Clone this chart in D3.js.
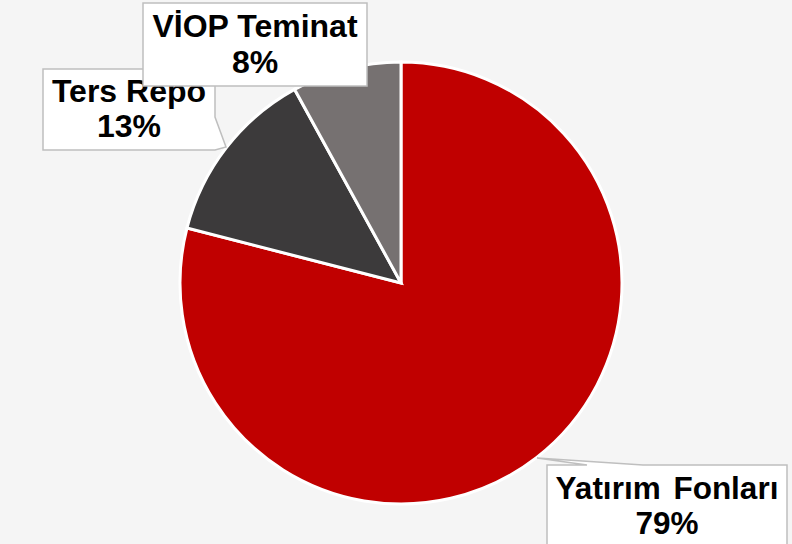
<!DOCTYPE html>
<html><head><meta charset="utf-8">
<script src="https://cdn.jsdelivr.net/npm/d3@7"></script>
<style>html,body{margin:0;padding:0;background:#f5f5f5;}svg{display:block;}</style>
</head><body>
<svg id="chart" width="792" height="544"></svg>
<script>
// Data
const categories = ["Yatırım Fonları", "Ters Repo", "VİOP Teminat"];
const values = [79, 13, 8];
const percentLabels = ["79%", "13%", "8%"];

// Styles / layout
const colors = ["#C00000", "#3C3A3B", "#767171"];
const W = 792, H = 544;
const cx = 401, cy = 283, R = 221;
const boxes = [
  {x0: 547, y0: 465, x1: 787, y1: 552, line1: 499, line2: 534, tail: "top", tb: [587, 643], tip: [537, 458], ws: 4},
  {x0: 43, y0: 69, x1: 215, y1: 150, line1: 102, line2: 137, tail: "right", tb: [117, 150], tip: [226, 147], ws: 0},
  {x0: 143, y0: 3, x1: 367, y1: 86, line1: 37, line2: 73, tail: null, ws: 0}
];
const fontSizes = [31.5, 32, 32];

const svg = d3.select("#chart");
svg.append("rect").attr("width", W).attr("height", H).attr("fill", "#f5f5f5");

const pie = d3.pie().sort(null).value(d => d.value).startAngle(0).endAngle(2 * Math.PI);
const arc = d3.arc().innerRadius(0).outerRadius(R);
const data = categories.map((c, i) => ({name: c, value: values[i], pct: percentLabels[i], color: colors[i]}));
const arcs = pie(data);

const g = svg.append("g").attr("transform", `translate(${cx},${cy})`);
g.selectAll("path").data(arcs).join("path")
  .attr("d", arc)
  .attr("fill", d => d.data.color)
  .attr("stroke", "#ffffff")
  .attr("stroke-width", 3)
  .attr("stroke-linejoin", "miter");

function boxPath(b) {
  const p = d3.path();
  if (b.tail === "top") {
    p.moveTo(b.x0, b.y0);
    p.lineTo(b.tb[0], b.y0);
    p.lineTo(b.tip[0], b.tip[1]);
    p.lineTo(b.tb[1], b.y0);
    p.lineTo(b.x1, b.y0);
    p.lineTo(b.x1, b.y1);
    p.lineTo(b.x0, b.y1);
    p.closePath();
  } else if (b.tail === "right") {
    p.moveTo(b.x0, b.y0);
    p.lineTo(b.x1, b.y0);
    p.lineTo(b.x1, b.tb[0]);
    p.lineTo(b.tip[0], b.tip[1]);
    p.lineTo(b.x1, b.tb[1]);
    p.lineTo(b.x0, b.y1);
    p.closePath();
  } else {
    p.rect(b.x0, b.y0, b.x1 - b.x0, b.y1 - b.y0);
  }
  return p.toString();
}

const labels = svg.append("g");
data.forEach((d, i) => {
  const b = boxes[i];
  labels.append("path")
    .attr("d", boxPath(b))
    .attr("fill", "#ffffff")
    .attr("stroke", "#bfbfbf")
    .attr("stroke-width", 1.5);
  const xc = (b.x0 + b.x1) / 2;
  const t = labels.append("text")
    .attr("text-anchor", "middle")
    .attr("font-family", "'Liberation Sans', Arial, sans-serif")
    .attr("font-weight", "bold")
    .attr("font-size", fontSizes[i])
    .attr("word-spacing", b.ws)
    .attr("fill", "#000000");
  t.append("tspan").attr("x", xc).attr("y", b.line1).text(d.name);
  t.append("tspan").attr("x", xc).attr("y", b.line2).text(d.pct);
});
</script>
</body></html>
